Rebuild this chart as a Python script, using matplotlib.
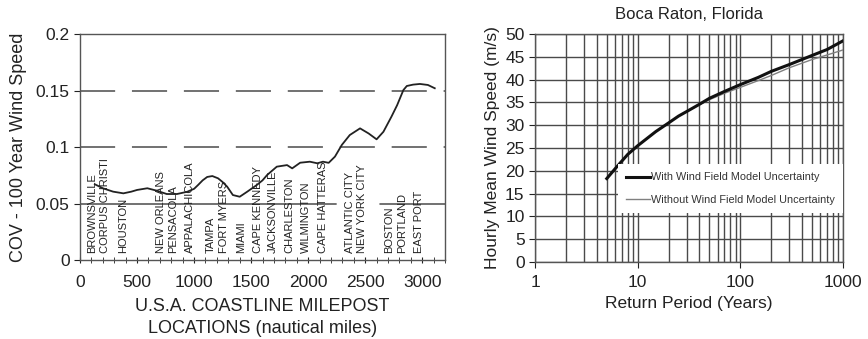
import numpy as np
import matplotlib
matplotlib.use("Agg")
import matplotlib.pyplot as plt
from matplotlib.ticker import MultipleLocator, LogLocator, FixedLocator

plt.rcParams["font.family"] = ["Liberation Sans", "DejaVu Sans"]

# COV of 100-year wind speed along the coastline
milepost = [130, 200, 290, 380, 450, 500, 590, 675, 760, 850, 940, 1000, 1035,
            1075, 1115, 1160, 1210, 1250, 1290, 1340, 1400, 1465, 1550, 1600,
            1640, 1725, 1815, 1860, 1930, 2015, 2080, 2130, 2180, 2235, 2295,
            2365, 2455, 2530, 2600, 2660, 2730, 2780, 2835, 2865, 2920, 2980,
            3050, 3110]
cov = [0.067, 0.0635, 0.0605, 0.059, 0.0605, 0.062, 0.0635, 0.0613, 0.0584,
       0.0584, 0.0604, 0.063, 0.0664, 0.0705, 0.0735, 0.0743, 0.0723, 0.0690,
       0.0649, 0.0575, 0.056, 0.0604, 0.0664, 0.0705, 0.0752, 0.0826, 0.084,
       0.0811, 0.0861, 0.087, 0.0856, 0.087, 0.086, 0.0915, 0.1018, 0.1106,
       0.1165, 0.112, 0.1068, 0.1135, 0.1268, 0.137, 0.1504, 0.154, 0.1552,
       0.1558, 0.1549, 0.152]

cities = ["BROWNSVILLE", "CORPUS CHRISTI", "HOUSTON", "NEW ORLEANS",
          "PENSACOLA", "APPALACHICOLA", "TAMPA", "FORT MYERS", "MIAMI",
          "CAPE KENNEDY", "JACKSONVILLE", "CHARLESTON", "WILMINGTON",
          "CAPE HATTERAS", "ATLANTIC CITY", "NEW YORK CITY", "BOSTON",
          "PORTLAND", "EAST PORT"]
city_milepost = [109, 223, 380, 709, 820, 966, 1143, 1266, 1409, 1557, 1694,
                 1837, 1980, 2129, 2366, 2471, 2714, 2823, 2971]

# Boca Raton return period curves
return_period = [5, 6, 8, 10, 15, 20, 25, 30, 40, 50, 70, 100, 150, 200, 300,
                 500, 700, 1000]
speed_with = [18.3, 20.4, 23.6, 25.5, 28.6, 30.5, 32.0, 33.0, 34.6, 35.9,
              37.4, 38.9, 40.5, 41.8, 43.3, 45.3, 46.6, 48.5]
speed_without = [18.3, 20.4, 23.6, 25.5, 28.6, 30.5, 32.0, 33.0, 34.5, 35.6,
                 37.0, 38.3, 39.8, 40.9, 42.6, 44.4, 45.4, 46.5]

ink = "#222222"
grid_col = "#4a4a4a"

fig = plt.figure(figsize=(8.68, 3.39), dpi=100)

# ---- left panel ----
ax1 = fig.add_axes([0.0922, 0.233, 0.4205, 0.6667])
ax1.set_xlim(0, 3200)
ax1.set_ylim(0, 0.2)
ax1.axhline(0.15, color=grid_col, lw=1.1, dashes=(23, 11), zorder=1)
ax1.axhline(0.10, color=grid_col, lw=1.1, dashes=(23, 11), zorder=1)
ax1.axhline(0.05, color=grid_col, lw=1.1, dashes=(168, 28), zorder=1)
ax1.plot(milepost, cov, color=ink, lw=1.3, zorder=3)
for name, m in zip(cities, city_milepost):
    ax1.text(m, 0.006, name, rotation=90, ha="center", va="bottom",
             fontsize=8, color=ink, zorder=2)

ax1.xaxis.set_major_locator(MultipleLocator(500))
ax1.xaxis.set_minor_locator(MultipleLocator(100))
ax1.set_yticks([0, 0.05, 0.1, 0.15, 0.2])
ax1.set_yticklabels(["0", "0.05", "0.1", "0.15", "0.2"])
ax1.tick_params(axis="x", which="both", direction="inout", length=5,
                color=ink, labelsize=12.5, labelcolor=ink, pad=8)
ax1.tick_params(axis="y", direction="out", length=4, color=ink,
                labelsize=12.5, labelcolor=ink)
for s in ax1.spines.values():
    s.set_color("#555555")
    s.set_linewidth(1.0)
ax1.set_xlabel("U.S.A. COASTLINE MILEPOST\nLOCATIONS (nautical miles)",
               fontsize=13, color=ink, labelpad=6, linespacing=1.4)
ax1.set_ylabel("COV - 100 Year Wind Speed", fontsize=13, color=ink,
               labelpad=6)

# ---- right panel ----
ax2 = fig.add_axes([0.6164, 0.2271, 0.3548, 0.6726])
ax2.set_xscale("log")
ax2.set_xlim(1, 1000)
ax2.set_ylim(0, 50)
ax2.xaxis.set_major_locator(FixedLocator([1, 10, 100, 1000]))
ax2.xaxis.set_minor_locator(LogLocator(base=10, subs=np.arange(2, 10)))
ax2.xaxis.set_minor_formatter(plt.NullFormatter())
ax2.set_xticklabels(["1", "10", "100", "1000"])
ax2.yaxis.set_major_locator(MultipleLocator(5))
ax2.grid(True, which="both", axis="x", color=grid_col, lw=1.0)
ax2.grid(True, which="major", axis="y", color=grid_col, lw=1.0)
ax2.set_axisbelow(True)
ax2.plot(return_period, speed_without, color="#808080", lw=1.0, zorder=3,
         label="Without Wind Field Model Uncertainty")
ax2.plot(return_period, speed_with, color="#111111", lw=2.2, zorder=4,
         label="With Wind Field Model Uncertainty")
handles, labels = ax2.get_legend_handles_labels()
leg = ax2.legend(handles[::-1], labels[::-1], loc="lower right",
                 bbox_to_anchor=(1.0, 0.215), borderaxespad=0,
                 fontsize=7.8, frameon=True, fancybox=False, framealpha=1,
                 handlelength=2.2, handletextpad=0.1, borderpad=0.75,
                 labelspacing=1.15)
leg.get_frame().set_edgecolor("white")
leg.get_frame().set_linewidth(0)
for t in leg.get_texts():
    t.set_color("#333333")
ax2.tick_params(axis="both", which="major", direction="out", length=4,
                color=ink, labelsize=12.5, labelcolor=ink)
ax2.tick_params(axis="x", which="major", pad=5)
ax2.tick_params(axis="x", which="minor", length=0)
for s in ax2.spines.values():
    s.set_color("#555555")
    s.set_linewidth(1.0)
ax2.set_title("Boca Raton, Florida", fontsize=12, color=ink, pad=11)
ax2.set_xlabel("Return Period (Years)", fontsize=12.5, color=ink, labelpad=5)
ax2.set_ylabel("Hourly Mean Wind Speed (m/s)", fontsize=12.5, color=ink,
               labelpad=4)

fig.savefig("out.png", dpi=100)
